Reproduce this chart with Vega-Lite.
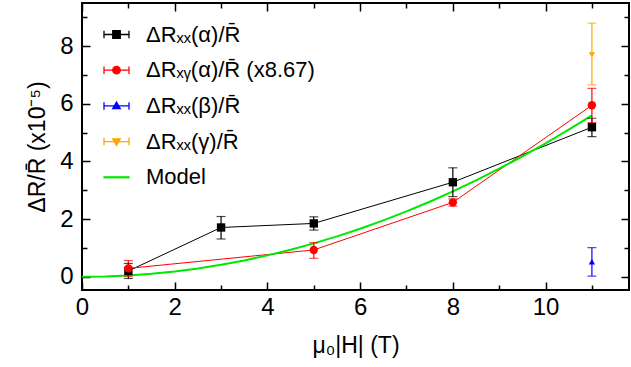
{
  "$schema": "https://vega.github.io/schema/vega-lite/v6.json",
  "width": 547,
  "height": 287,
  "autosize": {"type": "none"},
  "padding": {"left": 82, "top": 3, "right": 2, "bottom": 77},
  "background": "white",
  "config": {
    "view": {"stroke": "black", "strokeWidth": 2},
    "font": "Liberation Sans",
    "axis": {
      "domain": false,
      "grid": false,
      "tickColor": "black",
      "tickWidth": 1.5,
      "labelColor": "black",
      "labelFont": "Liberation Sans",
      "labelFontSize": 24,
      "titleFont": "Liberation Sans",
      "titleFontSize": 23,
      "titleFontWeight": "normal",
      "titleColor": "black"
    }
  },
  "datasets": {
    "pts": [
      {"k": "A", "x": 1, "y": 0.2, "lo": -0.06, "hi": 0.46},
      {"k": "A", "x": 3, "y": 1.71, "lo": 1.31, "hi": 2.09},
      {"k": "A", "x": 5, "y": 1.85, "lo": 1.62, "hi": 2.08},
      {"k": "A", "x": 8, "y": 3.28, "lo": 2.78, "hi": 3.78},
      {"k": "A", "x": 11, "y": 5.19, "lo": 4.86, "hi": 5.5},
      {"k": "B", "x": 1, "y": 0.29, "lo": 0.02, "hi": 0.56},
      {"k": "B", "x": 5, "y": 0.93, "lo": 0.64, "hi": 1.18},
      {"k": "B", "x": 8, "y": 2.58, "lo": 2.45, "hi": 2.7},
      {"k": "B", "x": 11, "y": 5.95, "lo": 5.35, "hi": 6.54},
      {"k": "C", "x": 11, "y": 0.52, "lo": 0.02, "hi": 1.01},
      {"k": "D", "x": 11, "y": 7.7, "lo": 6.66, "hi": 8.8}
    ],
    "model": [
      {"x": 0, "y": 0}, {"x": 0.5, "y": 0.012}, {"x": 1, "y": 0.046}, {"x": 1.5, "y": 0.104},
      {"x": 2, "y": 0.185}, {"x": 2.5, "y": 0.289}, {"x": 3, "y": 0.417}, {"x": 3.5, "y": 0.567},
      {"x": 4, "y": 0.741}, {"x": 4.5, "y": 0.938}, {"x": 5, "y": 1.158}, {"x": 5.5, "y": 1.401},
      {"x": 6, "y": 1.667}, {"x": 6.5, "y": 1.956}, {"x": 7, "y": 2.269}, {"x": 7.5, "y": 2.604},
      {"x": 8, "y": 2.963}, {"x": 8.5, "y": 3.345}, {"x": 9, "y": 3.75}, {"x": 9.5, "y": 4.179},
      {"x": 10, "y": 4.63}, {"x": 10.5, "y": 5.104}, {"x": 11, "y": 5.602}
    ],
    "leg": [
      {"s": "ΔR\u2093\u2093(α)/R\u0304"},
      {"s": "ΔR\u2093\u1d67(α)/R\u0304 (x8.67)"},
      {"s": "ΔR\u2093\u2093(β)/R\u0304"},
      {"s": "ΔR\u2093\u2093(γ)/R\u0304"},
      {"s": "Model"}
    ]
  },
  "resolve": {"axis": {"x": "independent", "y": "independent"}},
  "layer": [
    {
      "data": {"name": "pts"},
      "transform": [{"filter": "datum.k === 'A' || datum.k === 'B'"}],
      "mark": {"type": "line", "strokeWidth": 1, "clip": true},
      "encoding": {
        "x": {"field": "x", "type": "quantitative", "scale": {"domain": [0, 11.8], "nice": false, "zero": false},
          "axis": {"orient": "bottom", "values": [0,1,2,3,4,5,6,7,8,9,10,11],
            "labelExpr": "datum.value % 2 === 0 ? datum.label : ''",
            "tickSize": {"condition": {"test": "datum.value % 2 === 0", "value": -8}, "value": -5},
            "labelPadding": 13, "labelFlush": false, "title": "μ\u2080|H| (T)", "titlePadding": 15}},
        "y": {"field": "y", "type": "quantitative", "scale": {"domain": [-0.46, 9.5], "nice": false, "zero": false},
          "axis": {"orient": "left", "values": [0,1,2,3,4,5,6,7,8,9],
            "labelExpr": "datum.value % 2 === 0 ? datum.label : ''",
            "tickSize": {"condition": {"test": "datum.value % 2 === 0", "value": -8}, "value": -5},
            "labelPadding": 17, "labelFlush": false, "title": "ΔR/R\u0304 (x10\u207b\u2075)", "titlePadding": 10}},
        "color": {"field": "k", "type": "nominal", "legend": null,
          "scale": {"domain": ["A", "B", "C", "D"], "range": ["#000000", "#ff0000", "#0000ff", "#ffa500"]}}
      }
    },
    {
      "data": {"name": "model"},
      "mark": {"type": "line", "strokeWidth": 2, "color": "#00e800", "clip": true},
      "encoding": {
        "x": {"field": "x", "type": "quantitative",
          "axis": {"orient": "top", "values": [0,1,2,3,4,5,6,7,8,9,10,11], "labels": false, "title": null,
            "tickSize": {"condition": {"test": "datum.value % 2 === 0", "value": -8}, "value": -5}}},
        "y": {"field": "y", "type": "quantitative",
          "axis": {"orient": "right", "values": [0,1,2,3,4,5,6,7,8,9], "labels": false, "title": null,
            "tickSize": {"condition": {"test": "datum.value % 2 === 0", "value": -8}, "value": -5}}}
      }
    },
    {
      "data": {"name": "pts"},
      "mark": {"type": "rule", "strokeWidth": 1.2},
      "encoding": {
        "x": {"field": "x", "type": "quantitative", "axis": null},
        "y": {"field": "lo", "type": "quantitative", "axis": null},
        "y2": {"field": "hi"},
        "color": {"field": "k", "type": "nominal", "legend": null}
      }
    },
    {
      "data": {"name": "pts"},
      "mark": {"type": "tick", "orient": "horizontal", "size": 9, "thickness": 1.2},
      "encoding": {
        "x": {"field": "x", "type": "quantitative", "axis": null},
        "y": {"field": "lo", "type": "quantitative", "axis": null},
        "color": {"field": "k", "type": "nominal", "legend": null}
      }
    },
    {
      "data": {"name": "pts"},
      "mark": {"type": "tick", "orient": "horizontal", "size": 9, "thickness": 1.2},
      "encoding": {
        "x": {"field": "x", "type": "quantitative", "axis": null},
        "y": {"field": "hi", "type": "quantitative", "axis": null},
        "color": {"field": "k", "type": "nominal", "legend": null}
      }
    },
    {
      "data": {"name": "pts"},
      "transform": [{"filter": "datum.k === 'A'"}],
      "mark": {"type": "point", "shape": "square", "filled": true, "size": 70, "opacity": 1},
      "encoding": {
        "x": {"field": "x", "type": "quantitative", "axis": null},
        "y": {"field": "y", "type": "quantitative", "axis": null},
        "color": {"field": "k", "type": "nominal", "legend": null}
      }
    },
    {
      "data": {"name": "pts"},
      "transform": [{"filter": "datum.k === 'B'"}],
      "mark": {"type": "point", "shape": "circle", "filled": true, "size": 70, "opacity": 1},
      "encoding": {
        "x": {"field": "x", "type": "quantitative", "axis": null},
        "y": {"field": "y", "type": "quantitative", "axis": null},
        "color": {"field": "k", "type": "nominal", "legend": null}
      }
    },
    {
      "data": {"name": "pts"},
      "transform": [{"filter": "datum.k === 'C'"}],
      "mark": {"type": "point", "shape": "triangle-up", "filled": true, "size": 40, "opacity": 1},
      "encoding": {
        "x": {"field": "x", "type": "quantitative", "axis": null},
        "y": {"field": "y", "type": "quantitative", "axis": null},
        "color": {"field": "k", "type": "nominal", "legend": null}
      }
    },
    {
      "data": {"name": "pts"},
      "transform": [{"filter": "datum.k === 'D'"}],
      "mark": {"type": "point", "shape": "triangle-down", "filled": true, "size": 40, "opacity": 1},
      "encoding": {
        "x": {"field": "x", "type": "quantitative", "axis": null},
        "y": {"field": "y", "type": "quantitative", "axis": null},
        "color": {"field": "k", "type": "nominal", "legend": null}
      }
    },
    {
      "data": {"name": "leg"},
      "mark": {"type": "point", "filled": true, "opacity": 0},
      "encoding": {
        "fill": {"field": "s", "type": "nominal",
          "scale": {"domain": ["ΔR\u2093\u2093(α)/R\u0304", "ΔR\u2093\u1d67(α)/R\u0304 (x8.67)", "ΔR\u2093\u2093(β)/R\u0304", "ΔR\u2093\u2093(γ)/R\u0304", "Model"],
            "range": ["#000000", "#ff0000", "#0000ff", "#ffa500", "#00e800"]},
          "legend": {"title": null, "orient": "none", "legendX": 21, "legendY": 18, "padding": 0,
            "labelFont": "Liberation Sans", "labelFontSize": 22, "labelColor": "black", "labelLimit": 400,
            "symbolSize": 625, "symbolStrokeWidth": 1.3, "symbolOpacity": 1, "rowPadding": 10.7, "labelOffset": 16}},
        "stroke": {"field": "s", "type": "nominal",
          "scale": {"domain": ["ΔR\u2093\u2093(α)/R\u0304", "ΔR\u2093\u1d67(α)/R\u0304 (x8.67)", "ΔR\u2093\u2093(β)/R\u0304", "ΔR\u2093\u2093(γ)/R\u0304", "Model"],
            "range": ["#000000", "#ff0000", "#0000ff", "#ffa500", "#00e800"]},
          "legend": {"title": null, "orient": "none", "legendX": 21, "legendY": 18, "padding": 0,
            "labelFont": "Liberation Sans", "labelFontSize": 22, "labelColor": "black", "labelLimit": 400,
            "symbolSize": 625, "symbolStrokeWidth": 1.3, "symbolOpacity": 1, "rowPadding": 10.7, "labelOffset": 16}},
        "shape": {"field": "s", "type": "nominal",
          "scale": {"domain": ["ΔR\u2093\u2093(α)/R\u0304", "ΔR\u2093\u1d67(α)/R\u0304 (x8.67)", "ΔR\u2093\u2093(β)/R\u0304", "ΔR\u2093\u2093(γ)/R\u0304", "Model"],
            "range": [
              "M-1,0H1M-1,-0.3V0.3M1,-0.3V0.3M-0.3,-0.3H0.3V0.3H-0.3Z",
              "M-1,0H1M-1,-0.3V0.3M1,-0.3V0.3M-0.3,0A0.3,0.3,0,1,0,0.3,0A0.3,0.3,0,1,0,-0.3,0Z",
              "M-1,0H1M-1,-0.3V0.3M1,-0.3V0.3M0,-0.3L0.3,0.22L-0.3,0.22Z",
              "M-1,0H1M-1,-0.3V0.3M1,-0.3V0.3M0,0.3L0.3,-0.22L-0.3,-0.22Z",
              "M-1,-0.035H1V0.035H-1Z"
            ]},
          "legend": {"title": null, "orient": "none", "legendX": 21, "legendY": 18, "padding": 0,
            "labelFont": "Liberation Sans", "labelFontSize": 22, "labelColor": "black", "labelLimit": 400,
            "symbolSize": 625, "symbolStrokeWidth": 1.3, "symbolOpacity": 1, "rowPadding": 10.7, "labelOffset": 16}}
      }
    }
  ]
}
